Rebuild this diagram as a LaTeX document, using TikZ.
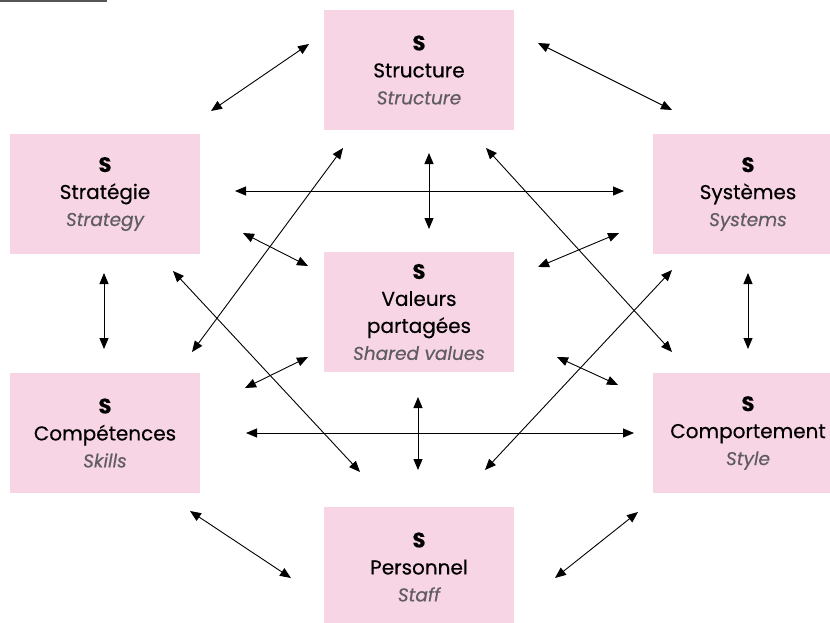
\documentclass[tikz,border=0pt]{standalone}
\usepackage{fontspec}
\setmainfont{Poppins}
\newfontfamily\medfont{Poppins}[FakeBold=0.4]
\usetikzlibrary{arrows.meta}
\definecolor{boxpink}{RGB}{248,213,229}
\definecolor{subgray}{RGB}{95,92,98}
\definecolor{rulegray}{RGB}{85,85,85}
\newcommand{\hd}{{\fontsize{21}{27}\selectfont\bfseries S}}
\newcommand{\sbt}[1]{{\color{subgray}\fontsize{18.5}{27}\selectfont\itshape #1}}
\begin{document}
\begin{tikzpicture}[x=1pt,y=-1pt,
  sbox/.style={fill=boxpink, minimum width=190pt, minimum height=120pt, inner sep=0pt, align=center, font=\medfont\fontsize{20}{27}\selectfont},
  twoway/.style={{Triangle[length=11pt,width=9pt]}-{Triangle[length=11pt,width=9pt]}, line width=0.9pt, black}]
\useasboundingbox (0,0) rectangle (830,622);
\begin{scope}
\clip (0,0) rectangle (830,622);
\draw[rulegray, line width=2pt] (0,0.5) -- (107,0.5);
\node[sbox] (struct) at (419,70) {\hd\\Structure\\\sbt{Structure}};
\node[sbox] (strat) at (105,194) {\hd\\Stratégie\\\sbt{Strategy}};
\node[sbox] (syst) at (748,194) {\hd\\Systèmes\\\sbt{Systems}};
\node[sbox] (val) at (419,312) {\hd\\Valeurs\\partagées\\\sbt{Shared values}};
\node[sbox] (comp) at (105,433) {\hd\\Compétences\\\sbt{Skills}};
\node[sbox] (comport) at (748,433) {\hd\\Comportement\\\sbt{Style}};
\node[sbox] (pers) at (419,567) {\hd\\Personnel\\\sbt{Staff}};
\end{scope}
% arrow end points
\coordinate (a1s) at (211,111); \coordinate (a1e) at (309,44);
\coordinate (a2s) at (538,43);  \coordinate (a2e) at (672,110);
\coordinate (a3s) at (104,273); \coordinate (a3e) at (104,349);
\coordinate (a4s) at (748,273); \coordinate (a4e) at (748,349);
\coordinate (a5s) at (190,511); \coordinate (a5e) at (291,578);
\coordinate (a6s) at (638,512); \coordinate (a6e) at (555,578);
\coordinate (a7s) at (235,191); \coordinate (a7e) at (624,191);
\coordinate (a8s) at (429,153); \coordinate (a8e) at (429,229);
\coordinate (a9s) at (192,352); \coordinate (a9e) at (343,148);
\coordinate (a10s) at (486,148); \coordinate (a10e) at (672,352);
\coordinate (a11s) at (243,233); \coordinate (a11e) at (308,266);
\coordinate (a12s) at (619,233); \coordinate (a12e) at (538,267);
\coordinate (a13s) at (173,271); \coordinate (a13e) at (360,472);
\coordinate (a14s) at (672,270); \coordinate (a14e) at (485,470);
\coordinate (a15s) at (245,388); \coordinate (a15e) at (308,357);
\coordinate (a16s) at (557,357); \coordinate (a16e) at (618,385);
\coordinate (a17s) at (246,433); \coordinate (a17e) at (634,433);
\coordinate (a18s) at (418,397); \coordinate (a18e) at (418,470);
\foreach \i in {1,...,18} {\draw[twoway] (a\i s) -- (a\i e);}
\end{tikzpicture}
\end{document}
